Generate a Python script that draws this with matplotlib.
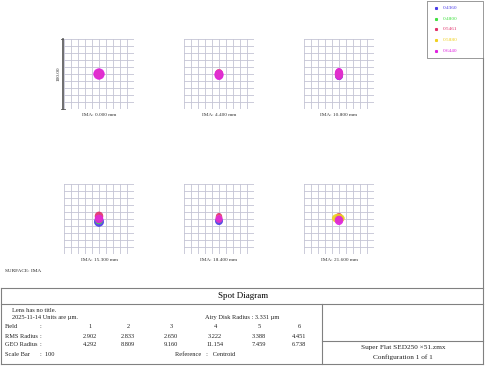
import matplotlib.pyplot as plt
from matplotlib.patches import Ellipse

# wavelengths (um) and their Zemax colours
waves = ["0.4360", "0.4800", "0.5461", "0.5880", "0.6440"]
wave_colors = ["#4a3ce8", "#40e040", "#e0306a", "#f0d020", "#e020e0"]

fields = ["IMA: 0.000 mm", "IMA: 4.400 mm", "IMA: 10.800 mm",
          "IMA: 15.300 mm", "IMA: 18.400 mm", "IMA: 21.600 mm"]

# spot centroid offsets and half sizes per field (rows) and wavelength (cols), in um
spot_dx = [[0, 0, 0, 0, 0],
           [0, 0, 0, 0, 0],
           [0, 0, 0, 0, 0],
           [0, 0, 0, 0, 0],
           [0, 0, 0, 0, 0],
           [0, 0, 0, -1, 0]]
spot_dy = [[0, 0, 0, 0, 0],
           [-1, -1, 0, 0, -1],
           [-3, -2, 1, 0, 0],
           [-4, -2, 4, 1, 0],
           [-3, -1, 3, 1, 0],
           [0, 1, 4, 1, -2]]
spot_rx = [[6, 6, 6, 6, 7.5],
           [5, 5, 5, 5, 6],
           [5, 5, 5, 5, 5.5],
           [6.5, 5, 5.5, 4, 5.5],
           [5, 4, 4, 4, 4.5],
           [5, 6, 4, 8.5, 5.5]]
spot_ry = [[6, 6, 6, 6, 7.5],
           [5, 5, 6.5, 6, 7],
           [5, 5, 6.5, 6, 8],
           [6.5, 5, 6, 4, 5.5],
           [5, 4, 5, 4, 5],
           [5, 5, 4, 6, 6]]

field_nums = ["1", "2", "3", "4", "5", "6"]
rms_radius = ["2.902", "2.833", "2.650", "3.222", "3.388", "4.451"]
geo_radius = ["4.292", "8.809", "9.160", "11.154", "7.459", "6.738"]

W, H = 488, 367
fig = plt.figure(figsize=(W / 100, H / 100), dpi=100)
plt.rcParams['font.family'] = ['Liberation Serif', 'DejaVu Serif']

# overlay in pixel units for frame lines and text
ov = fig.add_axes([0, 0, 1, 1])
ov.set_xlim(0, W)
ov.set_ylim(H, 0)
ov.axis("off")

lc = "#808080"
def hline(y, x0, x1):
    ov.plot([x0, x1], [y, y], color=lc, lw=0.8)
def vline(x, y0, y1):
    ov.plot([x, x], [y0, y1], color=lc, lw=0.8)

# spot grids
box = 70
col_x = [64, 184, 304]
row_y = [39, 184]
for i, lab in enumerate(fields):
    x0 = col_x[i % 3]
    y0 = row_y[i // 3]
    ax = fig.add_axes([x0 / W, 1 - (y0 + box) / H, box / W, box / H])
    ax.set_xlim(-50, 50)
    ax.set_ylim(-50, 50)
    for g in range(-50, 51, 10):
        ax.axvline(g, color="#c4c4d4", lw=0.6, zorder=0)
        ax.axhline(g, color="#c4c4d4", lw=0.6, zorder=0)
    for k in range(len(waves)):
        e = Ellipse((spot_dx[i][k], spot_dy[i][k]), 2 * spot_rx[i][k], 2 * spot_ry[i][k],
                    facecolor=wave_colors[k], edgecolor=wave_colors[k], lw=0.6, alpha=0.9)
        ax.add_patch(e)
    ax.set_xticks([])
    ax.set_yticks([])
    for s in ax.spines.values():
        s.set_visible(False)
    ov.text(x0 + box / 2, y0 + box + 6, lab, fontsize=3.8, ha="center", va="center", color="#333333")

# scale bar
ov.plot([61, 65], [39, 39], color="#555555", lw=0.6)
ov.plot([61, 65], [109, 109], color="#555555", lw=0.6)
ov.plot([63, 63], [39, 109], color="#555555", lw=1.2)
ov.text(59, 74, "100.00", rotation=90, fontsize=3.8, ha="center", va="center", color="#333333")

# legend box
ov.plot([427, 483, 483, 427, 427], [1, 1, 58, 58, 1], color="#999999", lw=0.7)
for k, w in enumerate(waves):
    yy = 8 + k * 10.7
    ov.plot(436, yy, marker="s", ms=1.2, color=wave_colors[k], mec=wave_colors[k])
    ov.text(443, yy, w, fontsize=3.8, va="center", color=wave_colors[k])

# outer frame
vline(483, 58, 364)
vline(1, 288, 364)
hline(288, 1, 483)
hline(304, 1, 483)
hline(364, 1, 483)
vline(322, 304, 364)
hline(341, 322, 483)

fs = 4.6
tc = "#222222"
ov.text(5, 271, "SURFACE: IMA", fontsize=3.8, va="center", color=tc)
ov.text(243, 296.5, "Spot Diagram", fontsize=6.5, ha="center", va="center", color="black")
ov.text(12, 310, "Lens has no title.", fontsize=fs, va="center", color=tc)
ov.text(12, 318, "2025-11-14 Units are \u00b5m.", fontsize=fs, va="center", color=tc)
ov.text(205, 318, "Airy Disk Radius : 3.331 \u00b5m", fontsize=fs, va="center", color=tc)

rows = [("Field", field_nums, 327), ("RMS Radius", rms_radius, 336), ("GEO Radius", geo_radius, 345)]
col_c = [90, 128, 171, 215, 259, 299]
for name, vals, yy in rows:
    ov.text(5, yy, name, fontsize=fs, va="center", color=tc)
    ov.text(40, yy, ":", fontsize=fs, va="center", color=tc)
    for xc, v in zip(col_c, vals):
        ov.text(xc, yy, v, fontsize=fs, ha="center", va="center", color=tc)
ov.text(5, 354, "Scale Bar", fontsize=fs, va="center", color=tc)
ov.text(40, 354, ":  100", fontsize=fs, va="center", color=tc)
ov.text(175, 354, "Reference   :   Centroid", fontsize=fs, va="center", color=tc)

ov.text(403, 348, "Super Flat SED250 \u00d751.zmx", fontsize=5.2, ha="center", va="center", color=tc)
ov.text(403, 357, "Configuration 1 of 1", fontsize=5.2, ha="center", va="center", color=tc)

fig.savefig("out.png", dpi=100)
